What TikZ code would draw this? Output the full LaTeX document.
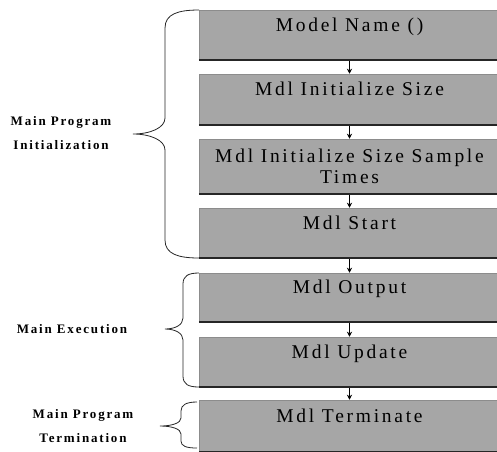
\documentclass[tikz,border=0pt]{standalone}
\usepackage{fontspec}
\setmainfont{Liberation Serif}
\newfontfamily\boxfont[LetterSpace=14]{Liberation Serif}
\newfontfamily\sidefont[LetterSpace=14]{Liberation Serif}
\usetikzlibrary{arrows.meta}

\begin{document}
\begin{tikzpicture}[>={Stealth[length=5pt, width=5pt]}, x=1pt, y=-1pt,
  box/.style={rectangle, inner sep=0pt, minimum width=301pt,
    fill=gray!70, draw=black!45, line width=0.5pt,
    font=\boxfont\fontsize{19.5}{21}\selectfont},
  lifted/.style={text height=14pt, text depth=22pt},
  shadowline/.style={line width=1.8pt, black!85},
  flow/.style={->, line width=0.8pt, shorten <=1pt},
  side/.style={align=center, font=\sidefont\bfseries\fontsize{13}{24}\selectfont},
  curly/.style={line width=0.8pt, black!85}]
\useasboundingbox (0,0) rectangle (497,451);

% === Boxes ===
\foreach \nm/\yc/\hgt/\txt in {Name/35/50/{Model Name ()},
    Size/99.5/51/{Mdl Initialize Size},
    Start/233/50/{Mdl Start},
    Output/297.5/49/{Mdl Output},
    Update/362/50/{Mdl Update},
    Term/426/52/{Mdl Terminate}}{
  \node[box, lifted, minimum height=\hgt pt] (\nm) at (349.5,\yc) {\txt};
  \draw[shadowline] (\nm.south west) -- (\nm.south east);
}
\node[box, align=center, minimum height=55pt] (Times) at (349.5,166.5)
  {Mdl Initialize Size Sample\\Times};
\draw[shadowline] (Times.south west) -- (Times.south east);

% === Connections ===
\foreach \a/\b in {Name/Size, Size/Times, Times/Start,
    Start/Output, Output/Update, Update/Term}{
  \draw[flow] (\a.south) -- (\b.north);
}

% === Braces ===
% Initialization
\draw[curly] (199,10) .. controls (178,10) and (165,14) .. (165,28)
  -- (165,118) .. controls (165,128) and (150,134) .. (133,134)
  .. controls (150,134) and (165,140) .. (165,150)
  -- (165,240) .. controls (165,254) and (178,258) .. (199,258);
% Execution
\draw[curly] (199,273) .. controls (188,273) and (183,276) .. (183,284)
  -- (183,318) .. controls (183,325) and (175,329) .. (165,329)
  .. controls (175,329) and (183,333) .. (183,340)
  -- (183,376) .. controls (183,384) and (188,387) .. (199,387);
% Termination
\draw[curly] (197,402) .. controls (186,402) and (181,405) .. (181,411)
  -- (181,418) .. controls (181,423) and (172,426) .. (160,426)
  .. controls (172,426) and (181,429) .. (181,434)
  -- (181,441) .. controls (181,446) and (186,448) .. (197,448);

% === Labels ===
\node[side] (InitLabel) at (61,133) {Main Program\\Initialization};
\node[side] (ExecLabel) at (72,329) {Main Execution};
\node[side] (TermLabel) at (83,426) {Main Program\\Termination};
\end{tikzpicture}
\end{document}
